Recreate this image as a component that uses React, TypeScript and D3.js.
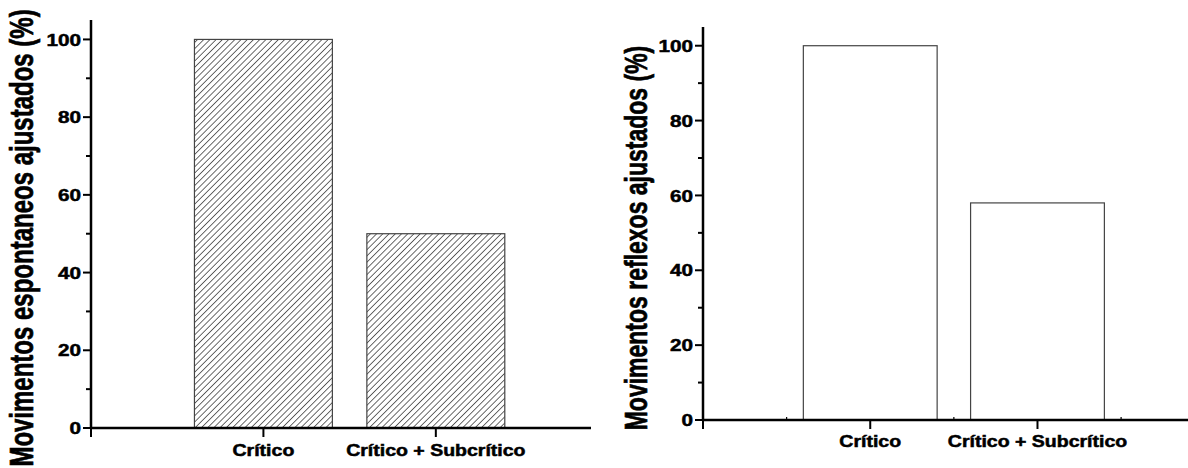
import { useRef, useEffect } from 'react';
import * as d3 from 'd3';

const categories = ["Crítico", "Crítico + Subcrítico"];
const espontaneos = [100, 50];
const reflexos = [100, 58];
const yMajorTicks = [0, 20, 40, 60, 80, 100];
const yMinorTicks = [10, 30, 50, 70, 90];
const xMajorTicks = [0, 1, 2];
const xMinorTicks = [0.5, 1.5, 2.5];

const FONT = "'Liberation Sans', Arial, Helvetica, sans-serif";
const STRETCH = 1.22; // the source picture is a bit wider than tall

const App = () => {
  const svgRef = useRef(null);

  useEffect(() => {
    const svg = d3.select(svgRef.current);
    svg.selectAll("*").remove();

    // hatch pattern for the left panel
    const defs = svg.append("defs");
    defs.append("pattern")
      .attr("id", "hatch")
      .attr("patternUnits", "userSpaceOnUse")
      .attr("width", 4.4)
      .attr("height", 4.4)
      .attr("patternTransform", "rotate(45)")
      .append("line")
      .attr("x1", 0).attr("y1", 0)
      .attr("x2", 0).attr("y2", 4.4)
      .attr("stroke", "#1a1a1a")
      .attr("stroke-width", 1.3);

    const label = (g, x, y, txt, size, anchor, rotate = false) =>
      g.append("text")
        .attr("transform", rotate
          ? `translate(${x},${y}) scale(1.35,1) rotate(-90)`
          : `translate(${x},${y}) scale(${STRETCH},1)`)
        .attr("text-anchor", anchor)
        .attr("font-family", FONT)
        .attr("font-weight", "bold")
        .attr("font-size", size)
        .attr("fill", "#000")
        .attr("stroke", "#000")
        .attr("stroke-width", 0.5)
        .text(txt);

    const panels = [
      {
        values: espontaneos, fill: "url(#hatch)", x0: 91, x1: 591, yTop: 20, yBottom: 428,
        title: "Movimentos espontaneos ajustados (%)", titleX: 33, titleY: 238, titleSize: 24,
        catOffset: 28, minorX: false
      },
      {
        values: reflexos, fill: "#fff", x0: 703, x1: 1188, yTop: 27, yBottom: 420,
        title: "Movimentos reflexos ajustados (%)", titleX: 647, titleY: 238, titleSize: 23,
        catOffset: 27, minorX: true
      }
    ];

    panels.forEach(p => {
      const x = d3.scaleLinear().domain([0, 2.9]).range([p.x0, p.x1]);
      const y = d3.scaleLinear().domain([0, 105]).range([p.yBottom, p.yTop]);
      const bw = x(0.8) - x(0);
      const g = svg.append("g");

      // bars
      g.selectAll(".bar")
        .data(p.values)
        .enter()
        .append("rect")
        .attr("x", (d, i) => x(i + 1) - bw / 2)
        .attr("y", d => y(d))
        .attr("width", bw)
        .attr("height", d => y(0) - y(d))
        .attr("fill", p.fill)
        .attr("stroke", "#444")
        .attr("stroke-width", 1.2);

      // y axis
      g.append("line")
        .attr("x1", x(0)).attr("x2", x(0))
        .attr("y1", y(0)).attr("y2", y(105))
        .attr("stroke", "#000").attr("stroke-width", 2.5);
      yMajorTicks.forEach(t => {
        g.append("line")
          .attr("x1", x(0) - 8).attr("x2", x(0))
          .attr("y1", y(t)).attr("y2", y(t))
          .attr("stroke", "#000").attr("stroke-width", 2);
        label(g, x(0) - 10, y(t) + 6.2, t, 17, "end");
      });
      yMinorTicks.forEach(t => {
        g.append("line")
          .attr("x1", x(0) - 5).attr("x2", x(0))
          .attr("y1", y(t)).attr("y2", y(t))
          .attr("stroke", "#000").attr("stroke-width", 2);
      });

      // x axis
      g.append("line")
        .attr("x1", x(0)).attr("x2", x(2.9))
        .attr("y1", y(0)).attr("y2", y(0))
        .attr("stroke", "#000").attr("stroke-width", 2.5);
      xMajorTicks.forEach(t => {
        g.append("line")
          .attr("x1", x(t)).attr("x2", x(t))
          .attr("y1", y(0)).attr("y2", y(0) + 9)
          .attr("stroke", "#000").attr("stroke-width", 2);
      });
      if (p.minorX) {
        xMinorTicks.forEach(t => {
          g.append("line")
            .attr("x1", x(t)).attr("x2", x(t))
            .attr("y1", y(0)).attr("y2", y(0) - 3)
            .attr("stroke", "#000").attr("stroke-width", 1.2);
        });
      }

      categories.forEach((c, i) => label(g, x(i + 1), y(0) + p.catOffset, c, 16, "middle"));

      // axis title
      label(g, p.titleX, p.titleY, p.title, p.titleSize, "middle", true);
    });
  }, []);

  return (
    <div style={{ position: "absolute", left: 0, top: 0, background: "#fff" }}>
      <svg ref={svgRef} width={1188} height={468}></svg>
    </div>
  );
};

export default App;
